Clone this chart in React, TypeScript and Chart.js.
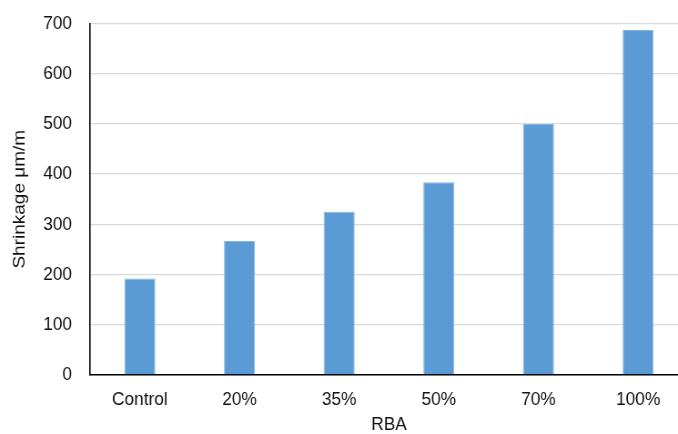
import React, { useEffect, useRef } from "react";
import { Chart, registerables } from "chart.js";

Chart.register(...registerables);

// Drying shrinkage by RBA replacement level
const categories = ["Control", "20%", "35%", "50%", "70%", "100%"];
const shrinkage = [192, 267, 325, 384, 500, 687];
const yTicks = [0, 100, 200, 300, 400, 500, 600, 700];

const FONT = "'Liberation Sans', Arial, Helvetica, sans-serif";
const TEXT = "#111111";
const FONT_SIZE = 19;
// horizontal squeeze applied to the whole canvas (narrower glyphs)
const SX = 0.91;

export default function App() {
  const canvasRef = useRef<HTMLCanvasElement | null>(null);

  useEffect(() => {
    const canvas = canvasRef.current;
    if (!canvas) return;
    const chart = new Chart(canvas, {
      type: "bar",
      data: {
        labels: categories,
        datasets: [
          {
            label: "Shrinkage",
            data: shrinkage,
            backgroundColor: "#5B9BD5",
            borderColor: "#86B5E1",
            borderWidth: 1,
            categoryPercentage: 1,
            barPercentage: 0.311,
          },
        ],
      },
      options: {
        animation: false,
        responsive: true,
        maintainAspectRatio: false,
        layout: { padding: { top: 23.5, right: 2 / SX, bottom: 0, left: 0 } },
        plugins: {
          legend: { display: false },
          tooltip: { enabled: false },
        },
        scales: {
          x: {
            grid: { display: false, drawTicks: false },
            border: { display: true, color: "#000000", width: 1.5 },
            ticks: {
              padding: 13.6,
              color: TEXT,
              font: { family: FONT, size: FONT_SIZE },
              maxRotation: 0,
            },
            title: {
              display: true,
              text: "RBA",
              color: TEXT,
              font: { family: FONT, size: FONT_SIZE },
              padding: { top: 0, bottom: 0 },
            },
            afterFit: (scale: any) => {
              scale.height = 61;
            },
          },
          y: {
            min: 0,
            max: 700,
            afterBuildTicks: (scale: any) => {
              scale.ticks = yTicks.map((v) => ({ value: v }));
            },
            grid: { color: "#D9D9D9", lineWidth: 1.3, drawTicks: false },
            border: { display: true, color: "#000000", width: 1.6 },
            ticks: {
              padding: 18 / SX,
              color: TEXT,
              font: { family: FONT, size: FONT_SIZE },
            },
            title: {
              display: true,
              text: "Shrinkage μm/m",
              color: TEXT,
              font: { family: FONT, size: FONT_SIZE },
              padding: { top: 10.6, bottom: 0 },
            },
            afterFit: (scale: any) => {
              scale.width = 90 / SX;
              scale.paddingTop = 0;
              scale.paddingBottom = 0;
            },
          },
        },
      },
    });
    return () => chart.destroy();
  }, []);

  return (
    <div
      style={{
        position: "absolute",
        left: 0,
        top: 0,
        width: 678,
        height: 434,
        overflow: "hidden",
        background: "#ffffff",
      }}
    >
      <div
        style={{
          position: "relative",
          width: 690 / SX,
          height: 436,
          transform: `scaleX(${SX})`,
          transformOrigin: "0 0",
        }}
      >
        <canvas ref={canvasRef} />
      </div>
    </div>
  );
}
